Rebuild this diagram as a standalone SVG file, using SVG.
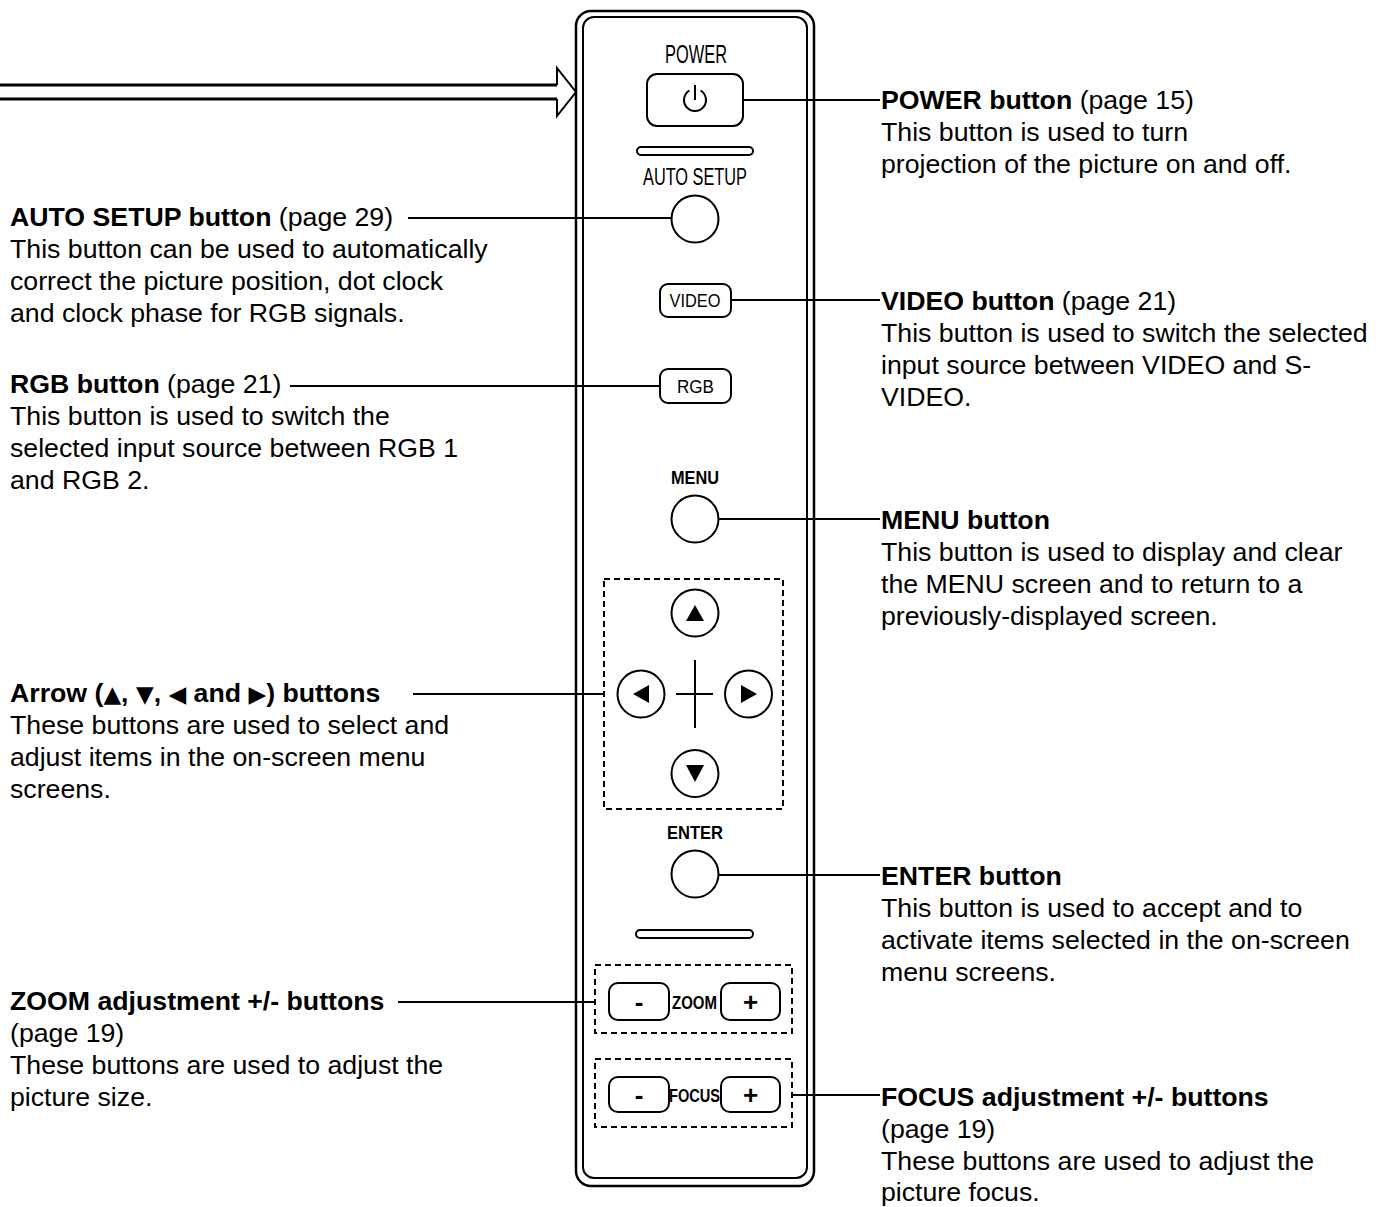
<svg xmlns="http://www.w3.org/2000/svg" width="1386" height="1207" viewBox="0 0 1386 1207">
<style>
.t{font-family:"Liberation Sans",Arial,Helvetica,sans-serif;font-size:26.7px;fill:#000}
.b{font-weight:bold}
.tri{font-family:"DejaVu Sans",sans-serif;font-size:23px;font-weight:normal}
.lbl{font-family:"Liberation Sans",Arial,Helvetica,sans-serif;text-anchor:middle;fill:#000}
.ln{stroke:#000;stroke-width:2;fill:none}
.btn{fill:#fff;stroke:#000;stroke-width:2}
.dash{fill:none;stroke:#000;stroke-width:2;stroke-dasharray:6 4}
.sym{font-family:"Liberation Sans",Arial,sans-serif;font-weight:bold;text-anchor:middle;font-size:26px;fill:#000}
</style>
<rect width="1386" height="1207" fill="#fff"/>

<g id="pointer-arrow">
<line x1="0" y1="85" x2="557" y2="85" stroke="#000" stroke-width="3"/>
<line x1="0" y1="99" x2="557" y2="99" stroke="#000" stroke-width="3"/>
<polyline points="557,85 557,68 576,92 557,116 557,99" class="ln"/>
</g>

<g id="panel">
<rect x="576" y="11" width="238" height="1175" rx="15" fill="none" stroke="#000" stroke-width="2.5"/>
<rect x="583" y="17" width="224" height="1161" rx="11" fill="none" stroke="#000" stroke-width="2"/>
<rect x="637" y="147" width="116" height="8" rx="4" class="btn"/>
<rect x="636" y="930" width="117" height="8" rx="4" class="btn"/>
</g>

<g id="power">
<text class="lbl" x="696" y="63" font-size="25" textLength="62" lengthAdjust="spacingAndGlyphs">POWER</text>
<rect x="647" y="74" width="96" height="52" rx="10" class="btn"/>
<path d="M700.5,90.5 A11,11 0 1 1 689.5,90.5" class="ln" stroke-width="1.8"/>
<line x1="695" y1="85" x2="695" y2="100" class="ln" stroke-width="1.8"/>
</g>

<g id="auto-setup">
<text class="lbl" x="695" y="185" font-size="23" textLength="104" lengthAdjust="spacingAndGlyphs">AUTO SETUP</text>
<circle cx="695" cy="219" r="23.5" class="btn"/>
</g>

<g id="video">
<rect x="660" y="284" width="71" height="33" rx="8" class="btn"/>
<text class="lbl" x="695" y="307" font-size="19" textLength="51" lengthAdjust="spacingAndGlyphs">VIDEO</text>
</g>

<g id="rgb">
<rect x="660" y="369" width="71" height="34" rx="8" class="btn"/>
<text class="lbl" x="695.5" y="393" font-size="19" textLength="37" lengthAdjust="spacingAndGlyphs">RGB</text>
</g>

<g id="menu">
<text class="lbl" x="695" y="484" font-size="19" font-weight="bold" textLength="48" lengthAdjust="spacingAndGlyphs">MENU</text>
<circle cx="695" cy="519" r="23.5" class="btn"/>
</g>

<g id="arrow-buttons">
<rect x="604" y="579" width="179" height="230" class="dash"/>
<circle cx="695" cy="613" r="23.5" class="btn"/>
<polygon points="695,605 686,621 704,621"/>
<circle cx="641" cy="694" r="23.5" class="btn"/>
<polygon points="633,694 649,685 649,703"/>
<circle cx="748.5" cy="694" r="23.5" class="btn"/>
<polygon points="757,694 741,685 741,703"/>
<circle cx="695" cy="773.5" r="23.5" class="btn"/>
<polygon points="686,765 704,765 695,782"/>
<line x1="676" y1="694" x2="713" y2="694" class="ln"/>
<line x1="695" y1="660" x2="695" y2="728" class="ln"/>
</g>

<g id="enter">
<text class="lbl" x="695" y="839" font-size="19" font-weight="bold" textLength="56" lengthAdjust="spacingAndGlyphs">ENTER</text>
<circle cx="695" cy="874" r="23.5" class="btn"/>
</g>

<g id="zoom">
<rect x="595" y="965" width="197" height="68" class="dash"/>
<rect x="609" y="983" width="60" height="37" rx="9" class="btn"/>
<text class="sym" x="639" y="1011">-</text>
<text class="lbl" x="694.5" y="1009" font-size="19" font-weight="bold" textLength="45" lengthAdjust="spacingAndGlyphs">ZOOM</text>
<rect x="721" y="983" width="59" height="37" rx="9" class="btn"/>
<text class="sym" x="750.5" y="1011">+</text>
</g>

<g id="focus">
<rect x="595" y="1059" width="197" height="68" class="dash"/>
<rect x="609" y="1077" width="60" height="35" rx="9" class="btn"/>
<text class="sym" x="639" y="1104">-</text>
<text class="lbl" x="694.5" y="1102" font-size="19" font-weight="bold" textLength="51" lengthAdjust="spacingAndGlyphs">FOCUS</text>
<rect x="721" y="1077" width="59" height="35" rx="9" fill="none" stroke="#000" stroke-width="2"/>
<text class="sym" x="750.5" y="1104">+</text>
</g>

<g id="connectors">
<line x1="743" y1="100" x2="880" y2="100" class="ln"/>
<line x1="408" y1="218" x2="672" y2="218" class="ln"/>
<line x1="731" y1="300" x2="880" y2="300" class="ln"/>
<line x1="290" y1="386" x2="660" y2="386" class="ln"/>
<line x1="719" y1="519" x2="880" y2="519" class="ln"/>
<line x1="413" y1="694" x2="604" y2="694" class="ln"/>
<line x1="719" y1="875" x2="880" y2="875" class="ln"/>
<line x1="398" y1="1002" x2="595" y2="1002" class="ln"/>
<line x1="792" y1="1095" x2="880" y2="1095" class="ln"/>
</g>

<g id="text-power">
<text class="t" x="881" y="109"><tspan class="b">POWER button</tspan> (page 15)</text>
<text class="t" x="881" y="141">This button is used to turn</text>
<text class="t" x="881" y="173">projection of the picture on and off.</text>
</g>
<g id="text-autosetup">
<text class="t" x="10" y="226"><tspan class="b">AUTO SETUP button</tspan> (page 29)</text>
<text class="t" x="10" y="258">This button can be used to automatically</text>
<text class="t" x="10" y="290">correct the picture position, dot clock</text>
<text class="t" x="10" y="322">and clock phase for RGB signals.</text>
</g>
<g id="text-video">
<text class="t" x="881" y="310"><tspan class="b">VIDEO button</tspan> (page 21)</text>
<text class="t" x="881" y="342">This button is used to switch the selected</text>
<text class="t" x="881" y="374">input source between VIDEO and S-</text>
<text class="t" x="881" y="406">VIDEO.</text>
</g>
<g id="text-rgb">
<text class="t" x="10" y="393"><tspan class="b">RGB button</tspan> (page 21)</text>
<text class="t" x="10" y="425">This button is used to switch the</text>
<text class="t" x="10" y="457">selected input source between RGB 1</text>
<text class="t" x="10" y="489">and RGB 2.</text>
</g>
<g id="text-menu">
<text class="t b" x="881" y="529">MENU button</text>
<text class="t" x="881" y="561">This button is used to display and clear</text>
<text class="t" x="881" y="593">the MENU screen and to return to a</text>
<text class="t" x="881" y="625">previously-displayed screen.</text>
</g>
<g id="text-arrow">
<text class="t b" x="10" y="702">Arrow (<tspan class="tri">▲</tspan>, <tspan class="tri">▼</tspan>, <tspan class="tri">◀</tspan> and <tspan class="tri">▶</tspan>) buttons</text>
<text class="t" x="10" y="734">These buttons are used to select and</text>
<text class="t" x="10" y="766">adjust items in the on-screen menu</text>
<text class="t" x="10" y="798">screens.</text>
</g>
<g id="text-enter">
<text class="t b" x="881" y="885">ENTER button</text>
<text class="t" x="881" y="917">This button is used to accept and to</text>
<text class="t" x="881" y="949">activate items selected in the on-screen</text>
<text class="t" x="881" y="981">menu screens.</text>
</g>
<g id="text-zoom">
<text class="t b" x="10" y="1010">ZOOM adjustment +/- buttons</text>
<text class="t" x="10" y="1042">(page 19)</text>
<text class="t" x="10" y="1074">These buttons are used to adjust the</text>
<text class="t" x="10" y="1106">picture size.</text>
</g>
<g id="text-focus">
<text class="t b" x="881" y="1106">FOCUS adjustment +/- buttons</text>
<text class="t" x="881" y="1138">(page 19)</text>
<text class="t" x="881" y="1170">These buttons are used to adjust the</text>
<text class="t" x="881" y="1201">picture focus.</text>
</g>
</svg>
